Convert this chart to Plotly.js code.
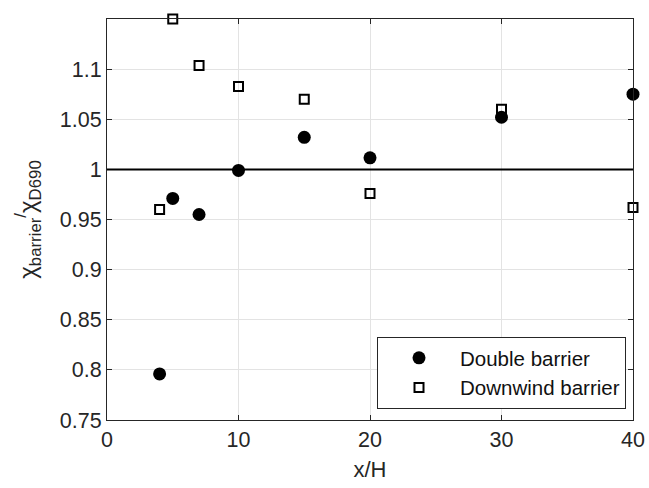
<!DOCTYPE html>
<html>
<head>
<meta charset="utf-8">
<script src="https://cdn.plot.ly/plotly-3.0.1.min.js"></script>
<style>html,body{margin:0;padding:0;background:#fff;}#chart{width:649px;height:488px;}</style>
</head>
<body>
<div id="chart"></div>
<script>
const xValues = [4, 5, 7, 10, 15, 20, 30, 40];
const doubleBarrier = [0.796, 0.971, 0.955, 0.999, 1.032, 1.0115, 1.052, 1.075];
const downwindBarrier = [0.960, 1.150, 1.1036, 1.0827, 1.070, 0.976, 1.060, 0.962];
const yTicks = [0.75, 0.8, 0.85, 0.9, 0.95, 1, 1.05, 1.1];
const yTickLabels = ['0.75', '0.8', '0.85', '0.9', '0.95', '1', '1.05', '1.1'];
const xTicks = [0, 10, 20, 30, 40];
const refValue = 1;

const txt = '#262626';
const traces = [
  {x: xValues, y: doubleBarrier, type: 'scatter', mode: 'markers', name: 'Double barrier',
   cliponaxis: false,
   marker: {symbol: 'circle', size: 13, color: '#000', line: {width: 0}}},
  {x: xValues, y: downwindBarrier, type: 'scatter', mode: 'markers', name: 'Downwind barrier',
   cliponaxis: false,
   marker: {symbol: 'square-open', size: 9, color: '#000', line: {width: 2, color: '#000'}}}
];
const layout = {
  width: 649, height: 488,
  margin: {l: 107, r: 16, t: 19, b: 68},
  paper_bgcolor: '#fff', plot_bgcolor: '#fff',
  font: {family: 'Liberation Sans, Arial, sans-serif', size: 21.5, color: txt},
  showlegend: true,
  legend: {x: 0.9867, y: 0.0274, xanchor: 'right', yanchor: 'bottom',
    bordercolor: txt, borderwidth: 1, bgcolor: '#fff',
    font: {size: 20.5, color: '#111'}, itemwidth: 72, tracegroupgap: 0},
  xaxis: {range: [0, 40], tickvals: xTicks, ticktext: xTicks.map(String),
    showgrid: true, gridcolor: '#e3e3e3', zeroline: false,
    showline: true, linecolor: txt, linewidth: 1, mirror: 'ticks',
    ticks: 'inside', ticklen: 5, tickcolor: txt,
    title: {text: 'x/H', font: {size: 22, color: txt}, standoff: 10}},
  yaxis: {range: [0.75, 1.15], tickvals: yTicks, ticktext: yTickLabels,
    showgrid: true, gridcolor: '#e3e3e3', zeroline: false,
    showline: true, linecolor: txt, linewidth: 1, mirror: 'ticks',
    ticks: 'inside', ticklen: 5, tickcolor: txt,
    title: {text: 'χ<sub>barrier</sub><sup>/</sup>χ<sub>D690</sub>', font: {size: 24, color: txt}, standoff: 16}},
  shapes: [{type: 'line', xref: 'paper', x0: 0, x1: 1, yref: 'y', y0: refValue, y1: refValue,
    line: {color: '#000', width: 2}, layer: 'above'}]
};
Plotly.newPlot('chart', traces, layout, {displayModeBar: false, staticPlot: true});
</script>
</body>
</html>
